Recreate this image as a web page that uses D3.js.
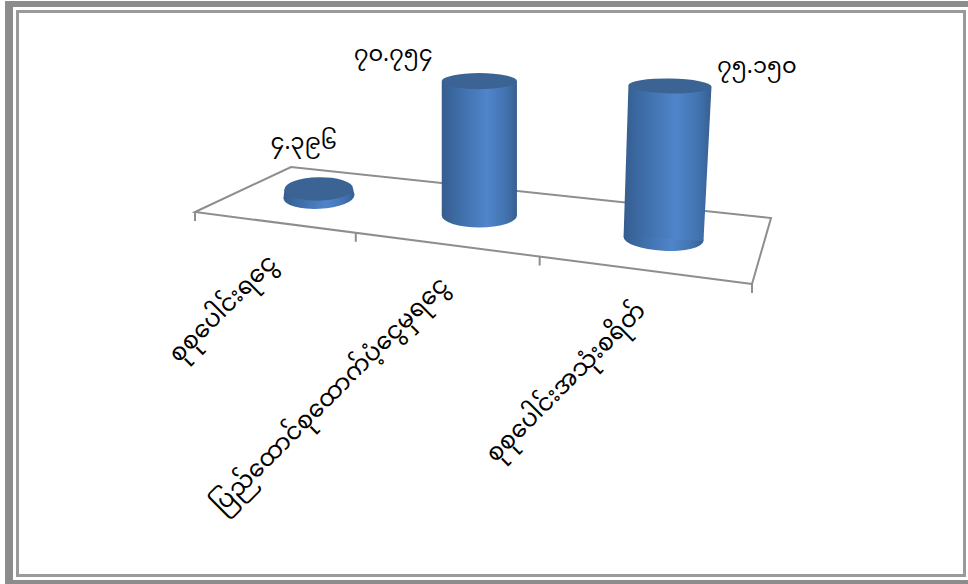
<!DOCTYPE html>
<html>
<head>
<meta charset="utf-8">
<script src="https://cdn.jsdelivr.net/npm/d3@7"></script>
<style>
html, body { margin: 0; padding: 0; background: #fff; }
svg { display: block; }
text { font-family: "Noto Sans Myanmar", "Padauk", "Myanmar Text", "DejaVu Sans", "Noto Sans", sans-serif; fill: #000; }
</style>
</head>
<body>
<script>
// chart data
var categories = ['စုစုပေါင်းရငွေ', 'ပြည်ထောင်စုထောက်ပံ့ငွေမှရငွေ', 'စုစုပေါင်းအသုံးစရိတ်'];
var values = [4.396, 70.754, 75.150];

// hand placed data labels, relative to the top of each cylinder
var labelOffsets = [[-15, -46], [-86, -26], [87, -19]];

// the last cylinder doesn't sit quite where the floor perspective puts it
var baseNudges = [[0, 0], [0, 0], [2, 2]];

var width = 968, height = 584;

// the floor of the 3d plot, as it lands on the screen
var floorFL = [195, 212], floorBL = [291, 167], floorBR = [771, 218], floorFR = [752, 284];

var svg = d3.select('body').append('svg')
    .attr('width', width)
    .attr('height', height);

// frame
var frameColor = '#8c8c8c';
svg.append('rect').attr('x', 5).attr('y', 1).attr('width', 963).attr('height', 6).attr('fill', frameColor);
svg.append('rect').attr('x', 5).attr('y', 1).attr('width', 8).attr('height', 583).attr('fill', frameColor);
svg.append('rect').attr('x', 5).attr('y', 580).attr('width', 963).attr('height', 4).attr('fill', frameColor);
svg.append('rect').attr('x', 17.5).attr('y', 11.5).attr('width', 947).attr('height', 564)
    .attr('fill', 'none').attr('stroke', '#9a9a9a').attr('stroke-width', 3);

// maps the unit square onto the floor quad, u runs along the categories, v towards the back
function makeHomography(p00, p01, p11, p10) {
    var dx1 = p10[0] - p11[0], dx2 = p01[0] - p11[0], sx = p00[0] - p10[0] + p11[0] - p01[0];
    var dy1 = p10[1] - p11[1], dy2 = p01[1] - p11[1], sy = p00[1] - p10[1] + p11[1] - p01[1];
    var det = dx1 * dy2 - dx2 * dy1;
    var g = (sx * dy2 - dx2 * sy) / det;
    var h = (dx1 * sy - sx * dy1) / det;
    var a = p10[0] - p00[0] + g * p10[0], b = p01[0] - p00[0] + h * p01[0], c = p00[0];
    var d = p10[1] - p00[1] + g * p10[1], e = p01[1] - p00[1] + h * p01[1], f = p00[1];
    return function(u, v) {
        var w = g * u + h * v + 1;
        return [(a * u + b * v + c) / w, (d * u + e * v + f) / w];
    };
}
var floor = makeHomography(floorFL, floorBL, floorBR, floorFR);

var xScale = d3.scaleBand().domain(categories).range([0, 1]);
var heightScale = d3.scaleLinear().domain([0, 100]).range([0, 188]);

// things that get bigger as the cylinder sits closer to the right hand corner
var radiusScale = d3.scaleLinear().domain([319, 663]).range([35.5, 40]);
var tiltScale = d3.scaleLinear().domain([319, 480, 663]).range([-3, 0, 3]);
var leanScale = d3.scaleLinear().domain([480, 663]).range([0, 0.042]);

// floor outline
svg.append('path')
    .attr('d', d3.line()([floorFR, floorFL, floorBL, floorBR, floorFR]))
    .attr('fill', 'none')
    .attr('stroke', '#8e8e8e')
    .attr('stroke-width', 2);

// ticks along the front edge
svg.selectAll('.tick')
    .data(d3.range(categories.length + 1))
    .enter().append('line')
    .attr('class', 'tick')
    .attr('x1', function(d) { return floor(d / categories.length, 0)[0]; })
    .attr('y1', function(d) { return floor(d / categories.length, 0)[1]; })
    .attr('x2', function(d) { return floor(d / categories.length, 0)[0]; })
    .attr('y2', function(d) { return floor(d / categories.length, 0)[1] + 9; })
    .attr('stroke', '#8e8e8e')
    .attr('stroke-width', 2);

// gradient for the cylinder walls, the round bottom uses it too so no seam shows
var defs = svg.append('defs');
var wall = defs.append('linearGradient').attr('id', 'wall');
[[0, '#365d8e'], [0.18, '#3c6aa3'], [0.6, '#5085cb'], [0.85, '#4273b0'], [1, '#375f90']].forEach(function(s) {
    wall.append('stop').attr('offset', s[0]).attr('stop-color', s[1]);
});

// work out the shape of every cylinder from its value
var bars = categories.map(function(c, i) {
    var onFloor = floor(xScale(c) + xScale.bandwidth() / 2, 0.49);
    var bottom = [onFloor[0] + baseNudges[i][0], onFloor[1] + baseNudges[i][1]];
    var r = radiusScale(bottom[0]);
    var h = heightScale(values[i]) * Math.pow(r / 37.25, 1.1);
    var lean = leanScale(bottom[0]);
    return {
        category: c,
        value: values[i],
        bottom: bottom,
        top: [bottom[0] + lean * h, bottom[1] - h],
        rTop: r * (1 + lean * 0.9),
        rBottom: r,
        ryTop: 12 - 4 * h / 135,
        ryBottom: 12,
        tiltTop: tiltScale(bottom[0]) / 3,
        tiltBottom: tiltScale(bottom[0])
    };
});

// end of an ellipse's long axis, side is -1 for left, 1 for right
function rim(c, rx, tilt, side) {
    var a = tilt * Math.PI / 180;
    return [c[0] + side * rx * Math.cos(a), c[1] + side * rx * Math.sin(a)];
}

function ellipsePath(c, rx, ry, tilt) {
    var l = rim(c, rx, tilt, -1), r = rim(c, rx, tilt, 1);
    return 'M' + l + 'A' + rx + ',' + ry + ' ' + tilt + ' 1,0 ' + r +
        'A' + rx + ',' + ry + ' ' + tilt + ' 1,0 ' + l + 'Z';
}

var barG = svg.selectAll('.bar').data(bars).enter().append('g').attr('class', 'bar');

barG.append('path')
    .attr('d', function(d) { return ellipsePath(d.bottom, d.rBottom, d.ryBottom, d.tiltBottom); })
    .attr('fill', 'url(#wall)');

barG.append('path')
    .attr('d', function(d) {
        return d3.line()([
            rim(d.top, d.rTop, d.tiltTop, -1),
            rim(d.top, d.rTop, d.tiltTop, 1),
            rim(d.bottom, d.rBottom, d.tiltBottom, 1),
            rim(d.bottom, d.rBottom, d.tiltBottom, -1)
        ]) + 'Z';
    })
    .attr('fill', 'url(#wall)');

barG.append('path')
    .attr('d', function(d) { return ellipsePath(d.top, d.rTop, d.ryTop, d.tiltTop); })
    .attr('fill', '#3b6494');

// data labels, written in burmese digits
var burmese = d3.formatLocale({
    decimal: '.', thousands: ',', grouping: [3], currency: ['', ''],
    numerals: ['၀', '၁', '၂', '၃', '၄', '၅', '၆', '၇', '၈', '၉']
}).format('.3f');

svg.selectAll('.value')
    .data(bars)
    .enter().append('text')
    .attr('class', 'value')
    .attr('x', function(d, i) { return d.top[0] + labelOffsets[i][0]; })
    .attr('y', function(d, i) { return d.top[1] + labelOffsets[i][1]; })
    .attr('text-anchor', 'middle')
    .attr('dominant-baseline', 'middle')
    .attr('font-size', 22.5)
    .text(function(d) { return burmese(d.value); });

// category labels hang off the front edge at 45 degrees
svg.selectAll('.category')
    .data(bars)
    .enter().append('text')
    .attr('class', 'category')
    .attr('text-anchor', 'end')
    .attr('font-size', 24)
    .attr('transform', function(d) {
        var p = floor(xScale(d.category) + xScale.bandwidth() / 2, 0);
        return 'translate(' + (p[0] + 5) + ',' + (p[1] + 42) + ') rotate(-45)';
    })
    .text(function(d) { return d.category; });
</script>
</body>
</html>
